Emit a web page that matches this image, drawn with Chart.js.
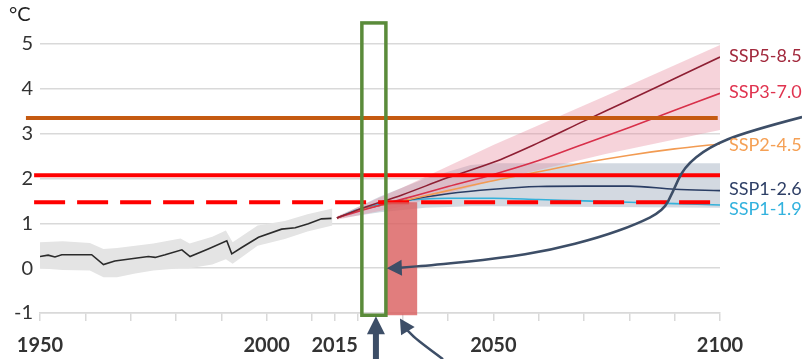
<!DOCTYPE html>
<html>
<head>
<meta charset="utf-8">
<script src="https://cdn.jsdelivr.net/npm/chart.js@4.4.1/dist/chart.umd.min.js"></script>
<style>
  body { margin: 0; background: #fff; }
  .chart-container { width: 802px; height: 359px; position: relative; }
</style>
</head>
<body>
<div class="chart-container"><canvas id="warmingChart"></canvas></div>
<script>
// observed warming 1950-2014
const histYears  = [1950, 1951.8, 1953.3, 1954.8, 1961.4, 1964, 1966.5, 1971, 1973.9, 1975.4, 1977.6, 1981.3, 1983.1, 1987.1, 1991.2, 1992.3, 1994.5, 1998.2, 2003.3, 2006.3, 2009.2, 2012.1, 2014.3];
const histValues = [0.26, 0.29, 0.25, 0.30, 0.30, 0.08, 0.16, 0.22, 0.26, 0.24, 0.30, 0.41, 0.26, 0.43, 0.61, 0.32, 0.46, 0.69, 0.87, 0.90, 0.99, 1.10, 1.11];

const histBandYears = [1950, 1955, 1961, 1964, 1967, 1971, 1975, 1981, 1983, 1988, 1991, 1992.5, 1998, 2004, 2009, 2014.5];
const histBandLow   = [0.00, -0.04, -0.05, -0.20, -0.20, -0.12, -0.05, 0.00, 0.00, 0.08, 0.20, 0.10, 0.50, 0.65, 0.82, 0.95];
const histBandHigh  = [0.58, 0.60, 0.56, 0.43, 0.45, 0.50, 0.55, 0.66, 0.55, 0.70, 0.84, 0.58, 0.95, 1.05, 1.20, 1.33];

// scenarios
const projYears = [2015.5, 2020, 2030, 2040, 2050, 2060, 2070, 2080, 2090, 2100];
const ssp585 = [1.12, 1.30, 1.64, 2.02, 2.36, 2.80, 3.28, 3.75, 4.23, 4.71];
const ssp370 = [1.12, 1.26, 1.54, 1.82, 2.09, 2.40, 2.77, 3.14, 3.52, 3.90];
const ssp245 = [1.12, 1.28, 1.50, 1.73, 1.95, 2.15, 2.35, 2.52, 2.66, 2.77];
const ssp126 = [1.12, 1.28, 1.50, 1.66, 1.76, 1.82, 1.83, 1.83, 1.76, 1.73];
const ssp119 = [1.12, 1.30, 1.50, 1.56, 1.56, 1.53, 1.50, 1.47, 1.44, 1.41];

const highBandYears = [2015.5, 2030, 2050, 2075, 2100];
const highBandLow   = [1.08, 1.38, 1.95, 2.55, 3.08];
const highBandHigh  = [1.16, 1.80, 2.75, 3.85, 4.98];

const lowBandYears = [2015.5, 2025, 2035, 2045, 2050, 2100];
const lowBandLow   = [1.10, 1.25, 1.35, 1.38, 1.38, 1.35];
const lowBandHigh  = [1.14, 1.60, 2.00, 2.30, 2.34, 2.34];

// threshold lines
const lineStart = 1948.7;
const orangeLevel = 3.35;
const twoDegLevel = 2.07;
const oneFiveLevel = 1.47;

const sspNames  = ['SSP5-8.5', 'SSP3-7.0', 'SSP2-4.5', 'SSP1-2.6', 'SSP1-1.9'];
const sspColors = ['#8e1f33', '#d8304a', '#f29b52', '#2a3d64', '#35b1da'];
const sspLabelColors = ['#a2293d', '#e0334f', '#f5a055', '#2e3f66', '#32b2de'];
const sspLabelLevels = [4.73, 3.93, 2.74, 1.77, 1.31];

// x ticks
const xTickYears  = [1950, 1960, 1970, 1980, 1990, 2000, 2010, 2015, 2020, 2030, 2040, 2050, 2060, 2070, 2080, 2090, 2100];
const xLabelYears = [1950, 2000, 2015, 2050, 2100];

// annotations (data coordinates)
const greenBox = { x0: 2021.0, x1: 2026.3, y0: -1.05, y1: 5.47 };
const pinkBox  = { x0: 2026.3, x1: 2033.2, y0: -1.05, y1: 1.47 };
const bigArrowYears  = [2118.1, 2106.0, 2097.5, 2092.0, 2089.6, 2087.5, 2081.5, 2073.5, 2062.5, 2051.5, 2036.7, 2029.4];
const bigArrowValues = [3.37, 3.05, 2.70, 2.25, 1.70, 1.28, 0.98, 0.69, 0.40, 0.22, 0.07, 0.01];
const bigArrowTip = [2026.5, 0.0];
const upArrow = { x: 2024.1, from: -2.2, tip: -1.07 };
const smallArrowYears  = [2038.9, 2033.2, 2031.0];
const smallArrowValues = [-2.03, -1.61, -1.38];
const smallArrowTip = [2029.4, -1.12];

const pts = (xs, ys) => xs.map((v, i) => ({ x: v, y: ys[i] }));

function drawCurve(ctx, p) {
    ctx.beginPath();
    ctx.moveTo(p[0][0], p[0][1]);
    for (let i = 1; i < p.length - 1; i++) {
        const mx = (p[i][0] + p[i + 1][0]) / 2, my = (p[i][1] + p[i + 1][1]) / 2;
        ctx.quadraticCurveTo(p[i][0], p[i][1], mx, my);
    }
    ctx.lineTo(p[p.length - 1][0], p[p.length - 1][1]);
    ctx.stroke();
}

function arrowHead(ctx, from, tip, len, half) {
    const a = Math.atan2(tip[1] - from[1], tip[0] - from[0]);
    ctx.beginPath();
    ctx.moveTo(tip[0], tip[1]);
    ctx.lineTo(tip[0] - len * Math.cos(a) + half * Math.sin(a), tip[1] - len * Math.sin(a) - half * Math.cos(a));
    ctx.lineTo(tip[0] - len * Math.cos(a) - half * Math.sin(a), tip[1] - len * Math.sin(a) + half * Math.cos(a));
    ctx.closePath();
    ctx.fill();
}

const annotations = {
    id: 'annotations',
    afterDatasetsDraw(chart) {
        const { ctx, scales: { x, y } } = chart;
        ctx.save();
        // pink box
        ctx.fillStyle = 'rgba(218, 96, 96, 0.82)';
        ctx.fillRect(x.getPixelForValue(pinkBox.x0), y.getPixelForValue(pinkBox.y1),
            x.getPixelForValue(pinkBox.x1) - x.getPixelForValue(pinkBox.x0),
            y.getPixelForValue(pinkBox.y0) - y.getPixelForValue(pinkBox.y1));
        // green box
        ctx.strokeStyle = '#5a8b3a';
        ctx.lineWidth = 3.5;
        ctx.strokeRect(x.getPixelForValue(greenBox.x0), y.getPixelForValue(greenBox.y1),
            x.getPixelForValue(greenBox.x1) - x.getPixelForValue(greenBox.x0),
            y.getPixelForValue(greenBox.y0) - y.getPixelForValue(greenBox.y1));

        // arrows
        ctx.strokeStyle = '#3d4e67';
        ctx.fillStyle = '#3d4e67';
        ctx.lineWidth = 2.5;
        const big = bigArrowYears.map((v, i) => [x.getPixelForValue(v), y.getPixelForValue(bigArrowValues[i])]);
        const bigTip = [x.getPixelForValue(bigArrowTip[0]), y.getPixelForValue(bigArrowTip[1])];
        drawCurve(ctx, big);
        arrowHead(ctx, big[big.length - 1], bigTip, 15, 8);

        const small = smallArrowYears.map((v, i) => [x.getPixelForValue(v), y.getPixelForValue(smallArrowValues[i])]);
        const smallTip = [x.getPixelForValue(smallArrowTip[0]), y.getPixelForValue(smallArrowTip[1])];
        drawCurve(ctx, small);
        arrowHead(ctx, small[small.length - 1], smallTip, 15, 8);

        const ux = x.getPixelForValue(upArrow.x);
        const uTip = [ux, y.getPixelForValue(upArrow.tip)];
        ctx.lineWidth = 6;
        ctx.beginPath();
        ctx.moveTo(ux, y.getPixelForValue(upArrow.from));
        ctx.lineTo(ux, uTip[1] + 14);
        ctx.stroke();
        arrowHead(ctx, [ux, uTip[1] + 20], uTip, 18, 9);

        // scenario labels
        ctx.font = '18px Lato';
        ctx.textAlign = 'left';
        ctx.textBaseline = 'middle';
        sspNames.forEach((n, i) => {
            ctx.fillStyle = sspLabelColors[i];
            ctx.fillText(n, x.right + 9, y.getPixelForValue(sspLabelLevels[i]));
        });

        // unit
        ctx.fillStyle = '#222';
        ctx.font = '20px Lato';
        ctx.textBaseline = 'top';
        ctx.fillText('°C', 9, 5);
        ctx.restore();
    }
};

const flat = (level) => [{ x: lineStart, y: level }, { x: 2100, y: level }];

new Chart(document.getElementById('warmingChart').getContext('2d'), {
    type: 'line',
    data: {
        datasets: [
            { data: pts(histBandYears, histBandLow), borderWidth: 0, pointRadius: 0, order: 20 },
            { data: pts(histBandYears, histBandHigh), borderWidth: 0, pointRadius: 0, fill: 0, backgroundColor: '#e4e4e4', order: 20 },
            { data: pts(lowBandYears, lowBandLow), borderWidth: 0, pointRadius: 0, order: 19 },
            { data: pts(lowBandYears, lowBandHigh), borderWidth: 0, pointRadius: 0, fill: 2, backgroundColor: 'rgba(200, 207, 218, 0.8)', order: 19 },
            { data: pts(highBandYears, highBandLow), borderWidth: 0, pointRadius: 0, order: 18 },
            { data: pts(highBandYears, highBandHigh), borderWidth: 0, pointRadius: 0, fill: 4, backgroundColor: 'rgba(232, 140, 158, 0.38)', order: 18 },
            { data: pts(histYears, histValues), borderColor: '#2b2b2b', borderWidth: 1.6, pointRadius: 0, order: 10 },
            { data: pts(projYears, ssp119), borderColor: sspColors[4], borderWidth: 1.6, pointRadius: 0, cubicInterpolationMode: 'monotone', order: 9 },
            { data: pts(projYears, ssp126), borderColor: sspColors[3], borderWidth: 1.6, pointRadius: 0, cubicInterpolationMode: 'monotone', order: 8 },
            { data: pts(projYears, ssp245), borderColor: sspColors[2], borderWidth: 1.6, pointRadius: 0, cubicInterpolationMode: 'monotone', order: 7 },
            { data: pts(projYears, ssp370), borderColor: sspColors[1], borderWidth: 1.6, pointRadius: 0, cubicInterpolationMode: 'monotone', order: 6 },
            { data: pts(projYears, ssp585), borderColor: sspColors[0], borderWidth: 1.6, pointRadius: 0, cubicInterpolationMode: 'monotone', order: 5 },
            { data: [{ x: lineStart - 1.8, y: orangeLevel }, { x: 2099.5, y: orangeLevel }], borderColor: '#c55a11', borderWidth: 4, pointRadius: 0, clip: false, order: 3 },
            { data: flat(twoDegLevel), borderColor: '#ff0000', borderWidth: 4, pointRadius: 0, clip: false, order: 2 },
            { data: flat(oneFiveLevel), borderColor: '#ff0000', borderWidth: 4, borderDash: [31, 12], pointRadius: 0, clip: false, order: 1 }
        ]
    },
    options: {
        responsive: true,
        maintainAspectRatio: false,
        animation: false,
        layout: { padding: { top: 44, right: 82, bottom: 0, left: 0 } },
        plugins: { legend: { display: false }, tooltip: { enabled: false } },
        scales: {
            x: {
                type: 'linear',
                min: 1950,
                max: 2100,
                afterBuildTicks: (scale) => { scale.ticks = xTickYears.map(v => ({ value: v })); },
                afterFit: (scale) => { scale.height = 46; },
                grid: { drawOnChartArea: false, color: '#d9d9d9', lineWidth: 1.5, tickLength: 8 },
                border: { color: '#d9d9d9', width: 1.5 },
                ticks: {
                    autoSkip: false,
                    maxRotation: 0,
                    padding: 13,
                    color: '#333',
                    font: { family: 'Lato', size: 20, weight: 'bold' },
                    callback: (v) => xLabelYears.includes(v) ? String(v) : ''
                }
            },
            y: {
                min: -1,
                max: 5,
                afterFit: (scale) => { scale.width = 40; },
                grid: { color: '#d9d9d9', lineWidth: 1.5, drawTicks: false },
                border: { display: false },
                ticks: {
                    stepSize: 1,
                    padding: 7,
                    color: '#333',
                    font: { family: 'Lato', size: 20 }
                }
            }
        }
    },
    plugins: [annotations]
});
</script>
</body>
</html>
